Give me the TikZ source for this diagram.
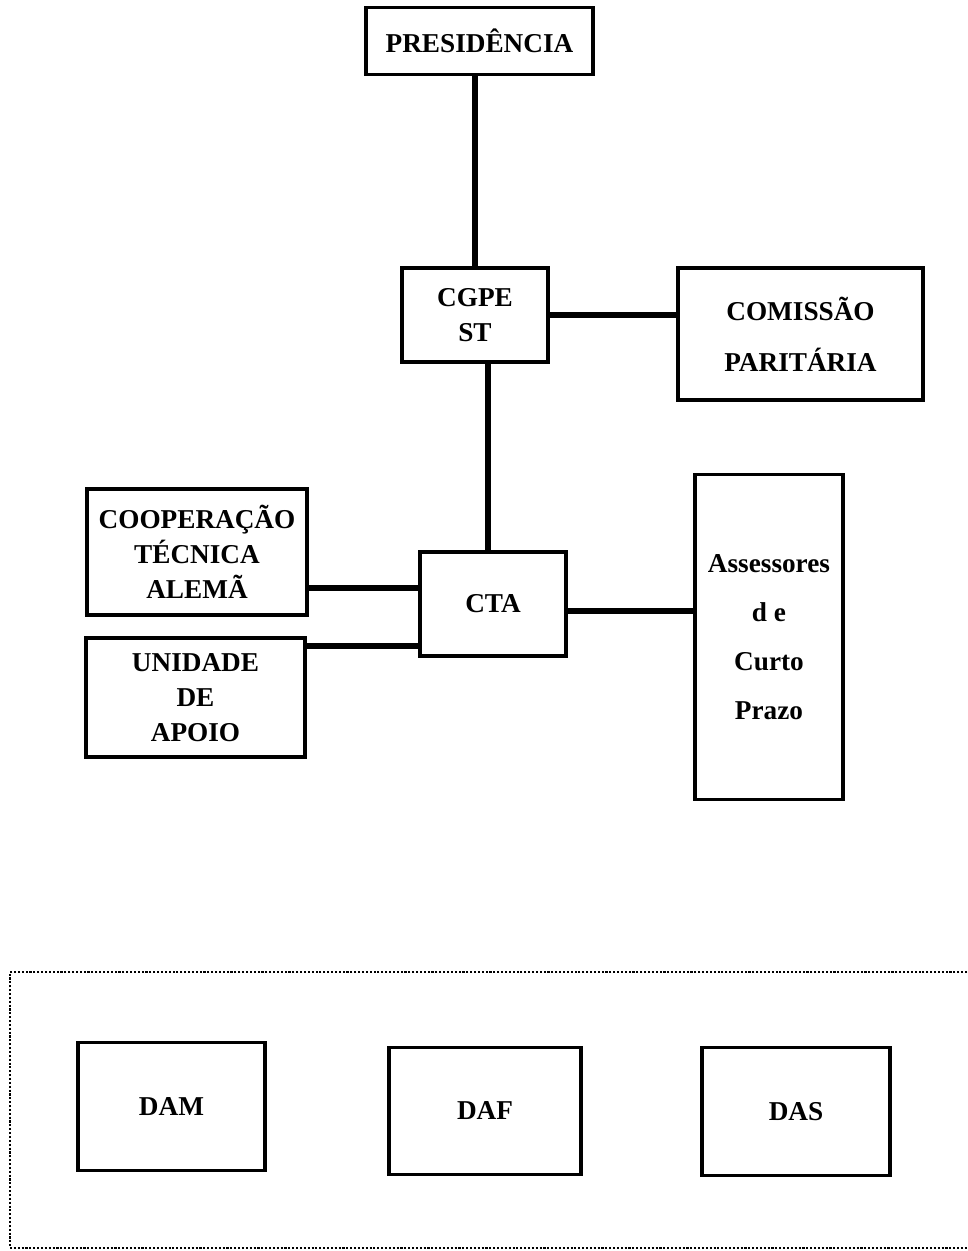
\documentclass[tikz,border=0pt]{standalone}
\usepackage{fontspec}
\setmainfont{Liberation Serif}
\usepackage{tikz}
\usetikzlibrary{positioning}
\tikzset{
  orgbox/.style={draw=black, line width=2pt, align=center, inner sep=2pt,
    font=\bfseries\fontsize{15.5}{20}\selectfont},
  link/.style={line width=3.4pt, black},
  frame/.style={densely dotted, line width=1.2pt, black},
}
\begin{document}
\begin{tikzpicture}[x=0.02cm, y=-0.02cm]
  \useasboundingbox (0,0) rectangle (967,1251);
  % upper part
  \node[orgbox, minimum width=4.54cm, minimum height=1.34cm] (pres) at (479.5,41) {PRESIDÊNCIA};
  \node[orgbox, minimum width=2.92cm, minimum height=1.88cm] (cgpe) at (475,315) {CGPE\\ST};
  \node[orgbox, minimum width=4.9cm, minimum height=2.64cm] (comissao) at (800.5,334) {COMISSÃO\\[9pt]PARITÁRIA};
  \node[orgbox, minimum width=2.92cm, minimum height=2.08cm] (cta) at (493,604) {CTA};
  \node[orgbox, minimum width=4.4cm, minimum height=2.52cm] (coop) at (197,552) {COOPERAÇÃO\\TÉCNICA\\ALEMÃ};
  \node[orgbox, minimum width=4.38cm, minimum height=2.38cm] (apoio) at (195.5,697.5) {UNIDADE\\DE\\APOIO};
  \node[orgbox, minimum width=2.96cm, minimum height=6.5cm] (assess) at (769,637) {Assessores\\[8pt]d e\\[8pt]Curto\\[8pt]Prazo};
  \draw[link] (cgpe.north) -- (cgpe.north |- pres.south);
  \draw[link] (cgpe.east) -- (cgpe.east -| comissao.west);
  \draw[link] ([xshift=-0.1cm]cta.north) -- ([xshift=-0.1cm]cta.north |- cgpe.south);
  \draw[link] ([yshift=-0.72cm]coop.east) -- ([yshift=-0.72cm]coop.east -| cta.west);
  \draw[link] ([yshift=-0.2cm]apoio.north east) -- ([yshift=-0.2cm]apoio.north east -| cta.west);
  \draw[link] ([yshift=-0.14cm]cta.east) -- ([yshift=-0.14cm]cta.east -| assess.west);
  % lower part
  \draw[frame] (967,972) -- (10,972) -- (10,1248) -- (967,1248);
  \node[orgbox, minimum width=3.74cm, minimum height=2.56cm] (dam) at (171.5,1106.5) {DAM};
  \node[orgbox, minimum width=3.84cm, minimum height=2.54cm] (daf) at (485,1111) {DAF};
  \node[orgbox, minimum width=3.76cm, minimum height=2.56cm] (das) at (796,1111.5) {DAS};
\end{tikzpicture}
\end{document}
